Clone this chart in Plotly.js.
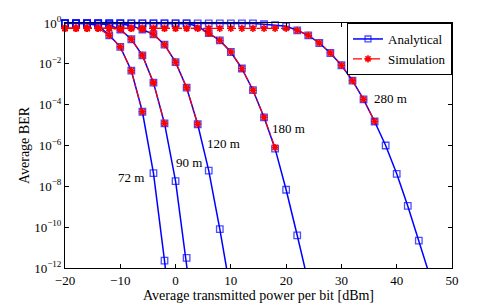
<!DOCTYPE html>
<html><head><meta charset="utf-8">
<script src="https://cdn.plot.ly/plotly-3.0.1.min.js"></script>
<style>html,body{margin:0;padding:0;background:#fff}</style>
</head><body><div id="chart" style="width:498px;height:303px"></div>
<script>
// ---- data ----
const curveLabels = ['72 m', '90 m', '120 m', '180 m', '280 m'];
const labelPower = [-8.0, 2.4, 8.6, 20.5, 38.9];
const labelBer = [2.6e-8, 1.4e-7, 1.2e-6, 7.2e-6, 1.9e-4];

const anaP72 = [-20, -18, -16, -14, -12, -10, -8, -6, -4, -2, 0];
const anaB72 = [0.96, 0.96, 0.95, 0.75, 0.25, 0.068, 4.6e-3, 4.5e-5, 4.4e-8, 2.3e-12, 3e-17];
const simP72 = [-20, -18, -16, -14, -12, -10, -8, -6];
const simB72 = [0.55, 0.55, 0.55, 0.55, 0.25, 0.068, 4.6e-3, 4.5e-5];

const anaP90 = [-20, -18, -16, -14, -12, -10, -8, -6, -4, -2, 0, 2, 4];
const anaB90 = [0.96, 0.96, 0.96, 0.95, 0.8, 0.48, 0.16, 0.026, 1.2e-3, 1.2e-5, 1.8e-8, 3.1e-12, 1e-16];
const simP90 = [-20, -18, -16, -14, -12, -10, -8, -6, -4, -2];
const simB90 = [0.55, 0.55, 0.55, 0.55, 0.55, 0.48, 0.16, 0.026, 1.2e-3, 1.2e-5];

const anaP120 = [-20, -18, -16, -14, -12, -10, -8, -6, -4, -2, 0, 2, 4, 6, 8, 10];
const anaB120 = [0.96, 0.96, 0.96, 0.96, 0.96, 0.95, 0.72, 0.48, 0.28, 0.087, 0.012, 6.8e-4, 1.1e-5, 5.9e-8, 8.1e-11, 6e-14];
const simP120 = [-20, -18, -16, -14, -12, -10, -8, -6, -4, -2, 0, 2, 4];
const simB120 = [0.55, 0.55, 0.55, 0.55, 0.55, 0.55, 0.55, 0.48, 0.28, 0.087, 0.012, 6.8e-4, 1.1e-5];

const anaP180 = [-20, -18, -16, -14, -12, -10, -8, -6, -4, -2, 0, 2, 4, 6, 8, 10, 12, 14, 16, 18, 20, 22, 24];
const anaB180 = [0.96, 0.96, 0.96, 0.96, 0.96, 0.96, 0.96, 0.96, 0.96, 0.96, 0.96, 0.95, 0.7, 0.32, 0.14, 0.038, 5.9e-3, 5.1e-4, 2.4e-5, 7e-7, 6.8e-9, 4e-11, 2e-13];
const simP180 = [-20, -18, -16, -14, -12, -10, -8, -6, -4, -2, 0, 2, 4, 6, 8, 10, 12, 14, 16, 18];
const simB180 = [0.55, 0.55, 0.55, 0.55, 0.55, 0.55, 0.55, 0.55, 0.55, 0.55, 0.55, 0.55, 0.55, 0.32, 0.14, 0.038, 5.9e-3, 5.1e-4, 2.4e-5, 8e-7];

const anaP280 = [-20, -18, -16, -14, -12, -10, -8, -6, -4, -2, 0, 2, 4, 6, 8, 10, 12, 14, 16, 18, 20, 22, 24, 26, 28, 30, 32, 34, 36, 38, 40, 42, 44, 46];
const anaB280 = [0.96, 0.96, 0.96, 0.96, 0.96, 0.96, 0.96, 0.96, 0.96, 0.96, 0.96, 0.96, 0.96, 0.96, 0.96, 0.96, 0.96, 0.95, 0.87, 0.78, 0.69, 0.44, 0.25, 0.105, 0.034, 8.5e-3, 1.5e-3, 1.8e-4, 1.5e-5, 1e-6, 4.1e-8, 1.1e-9, 2.2e-11, 4e-13];
const simP280 = [-20, -18, -16, -14, -12, -10, -8, -6, -4, -2, 0, 2, 4, 6, 8, 10, 12, 14, 16, 18, 20, 22, 24, 26, 28, 30, 32, 34, 36];
const simB280 = [0.55, 0.55, 0.55, 0.55, 0.55, 0.55, 0.55, 0.55, 0.55, 0.55, 0.55, 0.55, 0.55, 0.55, 0.55, 0.55, 0.55, 0.55, 0.55, 0.55, 0.55, 0.44, 0.25, 0.105, 0.034, 8.5e-3, 1.5e-3, 1.8e-4, 1.5e-5];

const xTicks = [-20, -10, 0, 10, 20, 30, 40, 50];
const yTickVals = [1, 1e-2, 1e-4, 1e-6, 1e-8, 1e-10, 1e-12];
const yTickText = ['10<sup>0</sup>', '10<sup>\u22122</sup>', '10<sup>\u22124</sup>', '10<sup>\u22126</sup>', '10<sup>\u22128</sup>', '10<sup>\u221210</sup>', '10<sup>\u221212</sup>'];
const seriesNames = ['Analytical', 'Simulation'];

// ---- build ----
const SERIF = '"Liberation Serif", "Times New Roman", Times, serif';
const BLUE = '#0000ff', RED = '#ff0000';
const YMIN = 1e-12;
const ana = [[anaP72, anaB72], [anaP90, anaB90], [anaP120, anaB120], [anaP180, anaB180], [anaP280, anaB280]];
const sim = [[simP72, simB72], [simP90, simB90], [simP120, simB120], [simP180, simB180], [simP280, simB280]];

const traces = [];
ana.forEach(function (c, i) {
  traces.push({
    x: c[0], y: c[1], type: 'scatter', mode: 'lines+markers',
    name: seriesNames[0], legendgroup: 'a', showlegend: i === 0,
    cliponaxis: false,
    line: {color: BLUE, width: 1.5},
    marker: {symbol: 'square-open', color: BLUE, size: c[1].map(function (v) { return v < YMIN ? 0 : 6.5; }), line: {width: 1.3, color: BLUE}}
  });
});
sim.forEach(function (c, i) {
  traces.push({
    x: c[0], y: c[1], type: 'scatter', mode: 'lines+markers',
    name: seriesNames[1], legendgroup: 's', showlegend: i === 0,
    cliponaxis: false,
    line: {color: RED, width: 1.2, dash: 'dashdot'},
    marker: {symbol: 'asterisk', color: RED, size: 6, line: {width: 1.6, color: RED}}
  });
});

const annotations = curveLabels.map(function (t, i) {
  return {x: labelPower[i], y: Math.log10(labelBer[i]), xref: 'x', yref: 'y', text: t,
    showarrow: false, font: {family: SERIF, size: 13, color: '#000'}};
});

const axisCommon = {
  showline: true, linecolor: '#000', linewidth: 1, mirror: 'ticks',
  ticks: 'inside', ticklen: 4, tickcolor: '#000', tickwidth: 1,
  showgrid: false, zeroline: false,
  tickfont: {family: SERIF, size: 13, color: '#000'}
};

const layout = {
  width: 498, height: 303,
  margin: {l: 65, r: 46, t: 23, b: 35},
  paper_bgcolor: '#fff', plot_bgcolor: '#fff',
  font: {family: SERIF, size: 13, color: '#000'},
  xaxis: Object.assign({}, axisCommon, {
    range: [-20, 50], tickmode: 'array', tickvals: xTicks,
    title: {text: 'Average transmitted power per bit [dBm]', font: {family: SERIF, size: 14}, standoff: 1}
  }),
  yaxis: Object.assign({}, axisCommon, {
    type: 'log', range: [-12, 0], tickmode: 'array', tickvals: yTickVals, ticktext: yTickText,
    title: {text: 'Average BER', font: {family: SERIF, size: 14}, standoff: 1}
  }),
  legend: {x: 1, y: 1, xanchor: 'right', yanchor: 'top', bgcolor: '#fff',
    bordercolor: '#000', borderwidth: 1, font: {family: SERIF, size: 13}, tracegroupgap: 0},
  annotations: annotations,
  showlegend: true
};

Plotly.newPlot('chart', traces, layout, {displayModeBar: false, staticPlot: true});
</script>
</body></html>
